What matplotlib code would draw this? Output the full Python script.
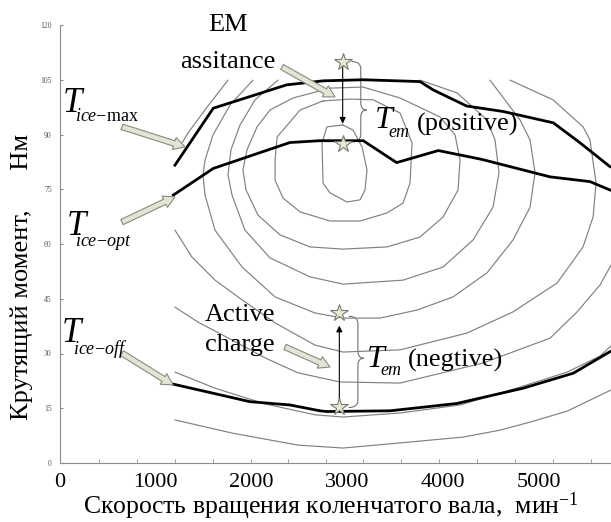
import matplotlib
matplotlib.use('Agg')
import matplotlib.pyplot as plt
from matplotlib.path import Path
from matplotlib.patches import PathPatch

plt.rcParams['font.family'] = ['Liberation Serif', 'DejaVu Serif']
plt.rcParams['mathtext.fontset'] = 'custom'
plt.rcParams['mathtext.rm'] = 'Liberation Serif'
plt.rcParams['mathtext.it'] = 'Liberation Serif:italic'

# ---------------- data (rpm, Nm) ----------------
x_tick_values = [0, 1000, 2000, 3000, 4000, 5000]
x_tick_labels = ['0', '1000', '2000', '3000', '4000', '5000']
x_tick_marks = [407, 804, 1200, 1597, 1994, 2381, 2777, 3163, 3560, 3956, 4353, 4750, 5147, 5543]
y_tick_values = [0, 15, 30, 45, 60, 75, 90, 105, 120]

# thick torque curves
tmax_rpm = [1200, 1600, 2366, 2746, 3163, 3758, 3897, 4245, 4627, 5150, 5430, 5741]
tmax_nm = [81.6, 97.2, 103.6, 104.7, 105.0, 104.5, 102.2, 97.8, 96.3, 93.2, 87.7, 81.2]
topt_rpm = [1183, 1600, 2400, 2714, 3166, 3514, 3949, 4400, 5115, 5532, 5741]
topt_nm = [73.4, 80.7, 87.8, 88.3, 88.3, 82.3, 85.6, 83.2, 78.4, 77.1, 74.8]
toff_rpm = [1183, 1600, 1983, 2400, 2714, 2784, 3445, 4141, 4836, 5358, 5741]
toff_nm = [21.6, 19.1, 16.8, 15.9, 14.3, 14.1, 14.3, 16.3, 20.5, 24.6, 30.5]

# thin iso-lines of the map
c1_rpm = [2955, 3059, 3153, 3205, 3184, 3132, 2996, 2819, 2746, 2735, 2787, 2955]
c1_nm = [92.6, 91.2, 86.6, 80.3, 74.8, 72.1, 71.5, 74.0, 76.7, 87.7, 92.1, 92.6]
c2_rpm = [2746, 3028, 3268, 3550, 3675, 3654, 3581, 3414, 3132, 2819, 2506, 2328, 2245, 2245, 2266, 2506, 2746]
c2_nm = [99.2, 99.7, 99.5, 95.9, 87.7, 76.7, 71.2, 68.5, 66.3, 66.3, 68.8, 72.6, 77.5, 83.0, 89.3, 96.7, 99.2]
c3_rpm = [2819, 3163, 3550, 3967, 4124, 4176, 4155, 3999, 3758, 3414, 2955, 2610, 2297, 2067, 1942, 1910, 1952, 2057, 2192, 2432, 2819]
c3_nm = [102.7, 103.0, 100.0, 94.8, 89.9, 83.0, 74.8, 67.4, 61.9, 59.2, 58.6, 59.2, 62.5, 67.9, 74.8, 80.3, 85.8, 92.1, 96.7, 100.0, 102.7]
c4_rpm = [2276, 2036, 1879, 1785, 1754, 1796, 1931, 2192, 2610, 2955, 3581, 3999, 4312, 4520, 4583, 4541, 4458, 4145, 3758]
c4_nm = [104.9, 99.5, 92.6, 85.8, 78.9, 73.4, 63.8, 56.2, 51.0, 49.0, 50.1, 53.7, 61.1, 70.1, 79.5, 88.5, 94.0, 101.4, 104.9]
c5_rpm = [2015, 1775, 1597, 1514, 1493, 1514, 1618, 1900, 2245, 2662, 2955, 3341, 3727, 4103, 4458, 4729, 4907, 4959, 4907, 4802, 4489]
c5_nm = [104.9, 98.1, 89.9, 83.0, 78.9, 73.4, 63.8, 53.7, 45.5, 41.1, 39.7, 39.7, 41.9, 45.5, 52.1, 61.1, 70.1, 79.5, 88.5, 94.0, 104.9]
c6a_rpm = [1754, 1535, 1336, 1274]
c6a_nm = [104.9, 97.5, 90.4, 87.7]
c6b_rpm = [1200, 1378, 1618, 1900, 2245, 2662, 2955, 3550, 4249, 4729, 5189, 5460, 5565, 5596, 5533, 5460, 5147, 4698]
c6b_nm = [63.8, 56.4, 50.1, 44.7, 38.4, 32.3, 30.4, 31.0, 35.6, 41.4, 49.3, 59.2, 67.4, 76.7, 88.5, 92.1, 99.5, 104.9]
c7_rpm = [1200, 1441, 1796, 2140, 2485, 2923, 3550, 4416, 5116, 5398, 5638, 5752]
c7_nm = [42.7, 38.6, 33.7, 28.8, 24.7, 22.2, 21.9, 27.4, 34.2, 41.4, 48.8, 54.2]
c8_rpm = [1200, 1618, 2140, 2662, 2955, 3550, 4176, 4802, 5293, 5638, 5752]
c8_nm = [24.9, 20.5, 16.2, 13.2, 12.6, 13.7, 15.9, 20.8, 24.9, 29.3, 32.1]
c9_rpm = [1200, 1796, 2485, 2955, 3550, 4207, 4594, 4907, 5293, 5752]
c9_nm = [11.8, 8.2, 4.9, 4.1, 5.5, 7.1, 9.0, 11.2, 14.2, 20.0]

# operating points (stars)
pos_rpm = 2951
pos_nm = [109.8, 87.4]
neg_rpm = 2916
neg_nm = [41.0, 15.4]

# ---------------- figure ----------------
fig = plt.figure(figsize=(6.11, 5.22), dpi=100)
ax = fig.add_axes([60 / 611, 59 / 522, 551 / 611, 438 / 522])
ax.set_xlim(0, 5752)
ax.set_ylim(0, 120)

thin = dict(color='#808080', lw=0.85, solid_joinstyle='round', solid_capstyle='round')
for xs, ys in [(c1_rpm, c1_nm), (c2_rpm, c2_nm), (c3_rpm, c3_nm), (c4_rpm, c4_nm),
               (c5_rpm, c5_nm), (c6a_rpm, c6a_nm), (c6b_rpm, c6b_nm), (c7_rpm, c7_nm),
               (c8_rpm, c8_nm), (c9_rpm, c9_nm)]:
    ax.plot(xs, ys, **thin)

thick = dict(color='black', lw=2.0, solid_joinstyle='round')
ax.plot(tmax_rpm, tmax_nm, **thick)
ax.plot(topt_rpm, topt_nm, **thick)
ax.plot(toff_rpm, toff_nm, **thick)

# vertical EM arrows
ax.annotate('', xy=(pos_rpm, 92.2), xytext=(pos_rpm, pos_nm[0]),
            arrowprops=dict(arrowstyle='-|>', color='black', lw=0.8, mutation_scale=9))
ax.annotate('', xy=(neg_rpm, 38.4), xytext=(neg_rpm, neg_nm[1]),
            arrowprops=dict(arrowstyle='-|>', color='black', lw=0.8, mutation_scale=9))

star = dict(marker='*', markersize=13, markerfacecolor='#e6e8d6', markeredgecolor='#7a7a70',
            markeredgewidth=0.8, linestyle='none', zorder=5)
ax.plot([pos_rpm] * 2, pos_nm, **star)
ax.plot([neg_rpm] * 2, neg_nm, **star)


def brace(x, ytop, ybot, ymid, w, r):
    verts = [(x - 1.6 * w, ytop), (x, ytop), (x, ytop - r),
             (x, ymid + r), (x, ymid), (x + w, ymid),
             (x, ymid), (x, ymid - r),
             (x, ybot + r), (x, ybot), (x - 1.6 * w, ybot)]
    codes = [Path.MOVETO, Path.CURVE3, Path.CURVE3,
             Path.LINETO, Path.CURVE3, Path.CURVE3,
             Path.CURVE3, Path.CURVE3,
             Path.LINETO, Path.CURVE3, Path.CURVE3]
    ax.add_patch(PathPatch(Path(verts, codes), fill=False, ec='#707070', lw=0.8))


brace(3140, 110.0, 88.0, 96.7, 60, 2.0)
brace(3110, 40.2, 15.2, 28.7, 60, 2.0)

# hollow pointer arrows
hollow = dict(arrowstyle='simple,tail_width=0.45,head_width=1.0,head_length=0.9',
              fc='#e2e5d3', ec='#8a8a80', lw=0.8, mutation_scale=9, shrinkA=0, shrinkB=0)
for tail, head in [((2318, 108.5), (2871, 100.3)),
                   ((647, 92.1), (1305, 86.6)),
                   ((647, 66.0), (1200, 72.9)),
                   ((647, 30.1), (1180, 21.4)),
                   ((2349, 31.8), (2819, 26.3))]:
    ax.annotate('', xy=head, xytext=tail, arrowprops=hollow)

# texts
big = 19
ax.text(1754, 120, 'EM', ha='center', va='center', fontsize=big)
ax.text(1754, 109.9, 'assitance', ha='center', va='center', fontsize=big)
ax.text(1880, 40.5, 'Active', ha='center', va='center', fontsize=big)
ax.text(1880, 32.3, 'charge', ha='center', va='center', fontsize=big)

tfs = 25
sfs = 13
ax.text(31, 96.2, 'T', style='italic', fontsize=tfs, ha='left', va='baseline')
ax.text(157, 93.7, r'$ice\mathrm{-max}$', fontsize=sfs, ha='left', va='baseline')
ax.text(73, 62.5, 'T', style='italic', fontsize=tfs, ha='left', va='baseline')
ax.text(157, 59.5, r'$ice\!-\!opt$', fontsize=sfs, ha='left', va='baseline')
ax.text(21, 33.2, 'T', style='italic', fontsize=tfs, ha='left', va='baseline')
ax.text(136, 29.9, r'$ice\!-\!off$', fontsize=sfs, ha='left', va='baseline')

ax.text(3289, 91.8, 'T', style='italic', fontsize=23, ha='left', va='baseline')
ax.text(3424, 89.3, 'em', style='italic', fontsize=sfs, ha='left', va='baseline')
ax.text(3727, 91.2, '(positive)', fontsize=big, ha='left', va='baseline')
ax.text(3205, 26.3, 'T', style='italic', fontsize=23, ha='left', va='baseline')
ax.text(3341, 24.1, 'em', style='italic', fontsize=sfs, ha='left', va='baseline')
ax.text(3633, 26.3, '(negtive)', fontsize=big, ha='left', va='baseline')

# axes styling
for s in ['top', 'right']:
    ax.spines[s].set_visible(False)
for s in ['left', 'bottom']:
    ax.spines[s].set_color('#8c8c8c')
    ax.spines[s].set_linewidth(0.8)

ax.set_xticks(x_tick_values)
ax.set_xticklabels(x_tick_labels)
ax.set_xticks(x_tick_marks, minor=True)
ax.tick_params(axis='x', which='major', length=0, labelsize=16, pad=7)
ax.tick_params(axis='x', which='minor', direction='in', length=3, color='#8c8c8c')
ax.set_yticks(y_tick_values)
ax.tick_params(axis='y', direction='in', length=2.5, color='#8c8c8c', labelsize=5.5,
               labelcolor='#555555', pad=6)

fig.text(331 / 611, 1 - 506 / 522, 'Скорость вращения коленчатого вала,  мин$^{-1}$',
         ha='center', va='center', fontsize=18.5)
fig.text(22 / 611, 1 - 277 / 522, 'Крутящий момент,      Нм', rotation=90,
         ha='center', va='center', fontsize=19)

fig.savefig('out.png', dpi=100)
